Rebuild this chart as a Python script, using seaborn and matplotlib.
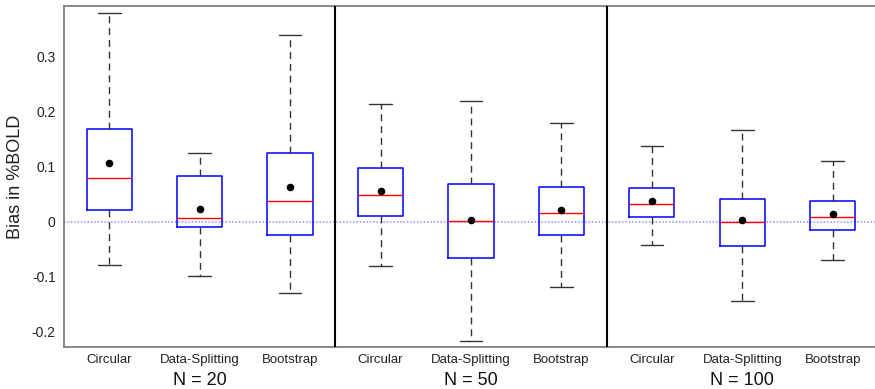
import numpy as np
import pandas as pd
import matplotlib
matplotlib.use("Agg")
import matplotlib.pyplot as plt
import matplotlib.transforms as mtransforms
import seaborn as sns

# Methods and sample sizes
methods = ["Circular", "Data-Splitting", "Bootstrap"]
sample_sizes = ["N = 20", "N = 50", "N = 100"]

# Five-number summaries of the bias (min, Q1, median, Q3, max), one per box,
# ordered N=20 (Circ, DS, Boot), N=50 (...), N=100 (...)
whisker_low = [-0.079, -0.099, -0.129, -0.080, -0.217, -0.119, -0.042, -0.144, -0.069]
q1 = [0.021, -0.010, -0.025, 0.011, -0.067, -0.025, 0.009, -0.044, -0.016]
median = [0.080, 0.006, 0.038, 0.048, 0.001, 0.015, 0.032, 0.000, 0.009]
q3 = [0.169, 0.082, 0.125, 0.098, 0.068, 0.062, 0.061, 0.041, 0.038]
whisker_high = [0.379, 0.125, 0.340, 0.214, 0.220, 0.179, 0.137, 0.167, 0.111]
means = [0.107, 0.023, 0.063, 0.056, 0.002, 0.021, 0.038, 0.002, 0.014]

ytick_values = [-0.2, -0.1, 0, 0.1, 0.2, 0.3]
ytick_labels = ["-0.2", "-0.1", "0", "0.1", "0.2", "0.3"]

sns.set_theme(style="white")
plt.rcParams["font.family"] = ["Liberation Sans", "DejaVu Sans"]

slots = np.arange(1, len(median) + 1)
rows = []
for s, lo, a, m, b, hi in zip(slots, whisker_low, q1, median, q3, whisker_high):
    for v in (lo, a, m, b, hi):
        rows.append({"slot": s, "bias": v})
df = pd.DataFrame(rows)
mean_df = pd.DataFrame({"slot": slots, "bias": means})

fig = plt.figure(figsize=(8.75, 3.89), dpi=100)
ax = fig.add_axes([64 / 875, 42 / 389, 814 / 875, 341 / 389])

# zero reference line
ax.axhline(0, color="#9090ff", linestyle=(0, (1, 1.2)), linewidth=1.1, zorder=1)

sns.boxplot(
    data=df, x="slot", y="bias", native_scale=True, fill=False, width=0.5,
    whis=(0, 100), linewidth=1.0, ax=ax,
    boxprops=dict(color="blue", linewidth=1.1),
    medianprops=dict(color="red", linewidth=1.0),
    whiskerprops=dict(color="#333333", linestyle=(0, (5, 3.5)), linewidth=1.0),
    capprops=dict(color="#333333", linewidth=1.0),
    capwidths=0.25,
    showfliers=False,
)

sns.scatterplot(data=mean_df, x="slot", y="bias", color="black", s=30,
                edgecolor="black", linewidth=0, zorder=5, ax=ax, legend=False)

# group separators
for xsep in (3.5, 6.5):
    ax.axvline(xsep, color="black", linewidth=1.5, zorder=4)

ax.set_xlim(0.5, 9.5)
ax.set_ylim(-0.228, 0.392)
ax.set_yticks(ytick_values)
ax.set_yticklabels(ytick_labels, fontsize=10, color="#222222")
ax.set_xticks(slots)
ax.set_xticklabels(methods * 3, fontsize=9.5, color="#222222")
ax.tick_params(axis="both", length=0)
ax.tick_params(axis="y", pad=6)
ax.tick_params(axis="x", pad=5)
ax.set_xlabel("")
ax.set_ylabel("Bias in %BOLD", fontsize=13, color="#222222")
ax.yaxis.set_label_coords(-0.049, 0.5)

for sp in ax.spines.values():
    sp.set_color("#7f7f7f")
    sp.set_linewidth(1.3)

trans = mtransforms.blended_transform_factory(ax.transData, ax.transAxes)
for center, lab in zip((2, 5, 8), sample_sizes):
    ax.text(center, -0.097, lab, transform=trans, ha="center", va="center",
            fontsize=13, color="#111111")

fig.savefig("out.png", dpi=100)
